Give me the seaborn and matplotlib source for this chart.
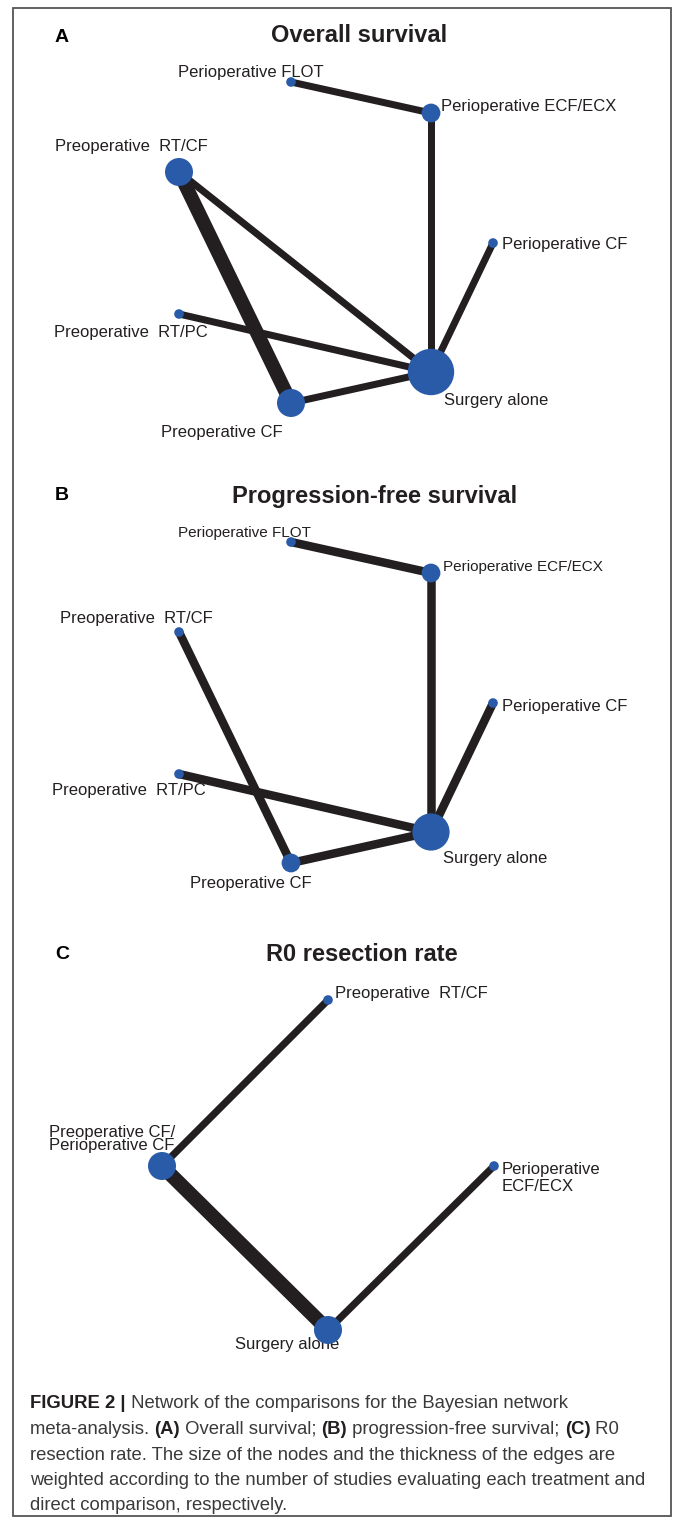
import matplotlib
matplotlib.use("Agg")
import matplotlib.pyplot as plt
import seaborn as sns
import pandas as pd
from matplotlib.patches import Rectangle

# ------------------------------------------------------------------ data
# Panels A and B share the same treatment set / network layout
nodes_ab = ["Perioperative FLOT", "Perioperative ECF/ECX", "Preoperative  RT/CF",
            "Perioperative CF", "Preoperative  RT/PC", "Surgery alone", "Preoperative CF"]
layout_ab_x = [291, 431, 179, 493, 179, 431, 291]
layout_ab_y = [82, 113, 172, 243, 314, 372, 403]

# number of studies per treatment (node weight)
studies_os = [1, 3, 5, 1, 1, 9, 5]
studies_pfs = [1, 3, 1, 1, 1, 7, 3]

# direct comparisons (edge weight = number of studies)
edges_os = [("Perioperative FLOT", "Perioperative ECF/ECX", 1),
            ("Perioperative ECF/ECX", "Surgery alone", 1),
            ("Preoperative  RT/CF", "Surgery alone", 1),
            ("Preoperative  RT/CF", "Preoperative CF", 2),
            ("Preoperative  RT/PC", "Surgery alone", 1),
            ("Preoperative CF", "Surgery alone", 1),
            ("Perioperative CF", "Surgery alone", 1)]
edges_pfs = [("Perioperative FLOT", "Perioperative ECF/ECX", 1),
             ("Perioperative ECF/ECX", "Surgery alone", 1),
             ("Preoperative  RT/CF", "Preoperative CF", 1),
             ("Preoperative  RT/PC", "Surgery alone", 1),
             ("Preoperative CF", "Surgery alone", 1),
             ("Perioperative CF", "Surgery alone", 1)]

nodes_r0 = ["Preoperative  RT/CF", "Preoperative CF/\nPerioperative CF",
            "Perioperative\nECF/ECX", "Surgery alone"]
layout_r0_x = [328, 162, 494, 328]
layout_r0_y = [80, 246, 246, 410]
studies_r0 = [1, 5, 1, 5]
edges_r0 = [("Preoperative  RT/CF", "Preoperative CF/\nPerioperative CF", 1),
            ("Preoperative CF/\nPerioperative CF", "Surgery alone", 2),
            ("Perioperative\nECF/ECX", "Surgery alone", 1)]

panel_letters = ["A", "B", "C"]
panel_titles = ["Overall survival", "Progression-free survival", "R0 resection rate"]

caption_lines = [
    [("FIGURE 2 |", True), (" Network of the comparisons for the Bayesian network", False)],
    [("meta-analysis. ", False), ("(A)", True), (" Overall survival; ", False), ("(B)", True),
     (" progression-free survival; ", False), ("(C)", True), (" R0", False)],
    [("resection rate. The size of the nodes and the thickness of the edges are", False)],
    [("weighted according to the number of studies evaluating each treatment and", False)],
    [("direct comparison, respectively.", False)],
]

# ------------------------------------------------------------------ style
W, H = 673, 1519
PT = 0.72                      # points per pixel at 100 dpi
EDGE_C = "#231f20"
NODE_C = "#2a5ba8"
TEXT_C = "#231f20"
CAP_C = "#3a3a3a"

sns.set_style("white")
plt.rcParams["font.family"] = ["Liberation Sans", "DejaVu Sans"]


def radius_px(n):
    return 2.5 + 2.3 * n


# label placement (left x, centre y, fontsize, linespacing) in panel pixels
labels_a = {"Perioperative FLOT": (178, 73, 12, 1.2),
            "Perioperative ECF/ECX": (441, 106, 12, 1.2),
            "Preoperative  RT/CF": (55, 147, 12, 1.2),
            "Perioperative CF": (502, 245, 12, 1.2),
            "Preoperative  RT/PC": (54, 332, 12, 1.2),
            "Surgery alone": (444, 401, 12, 1.2),
            "Preoperative CF": (161, 432, 12, 1.2)}
labels_b = {"Perioperative FLOT": (178, 73, 11, 1.2),
            "Perioperative ECF/ECX": (443, 107, 11, 1.2),
            "Preoperative  RT/CF": (60, 159, 12, 1.2),
            "Perioperative CF": (502, 247, 12, 1.2),
            "Preoperative  RT/PC": (52, 331, 12, 1.2),
            "Surgery alone": (443, 398, 12, 1.2),
            "Preoperative CF": (190, 423, 12, 1.2)}
labels_c = {"Preoperative  RT/CF": (335, 74, 12, 1.2),
            "Preoperative CF/\nPerioperative CF": (49, 219, 12, 0.8),
            "Perioperative\nECF/ECX": (502, 258, 12, 1.2),
            "Surgery alone": (235, 425, 12, 1.2)}

panels = [
    dict(top=0, names=nodes_ab, xs=layout_ab_x, ys=layout_ab_y, studies=studies_os,
         edges=edges_os, wps=7.0, labels=labels_a, title_x=359, title_y=35, letter_y=38),
    dict(top=460, names=nodes_ab, xs=layout_ab_x, ys=layout_ab_y, studies=studies_pfs,
         edges=edges_pfs, wps=8.5, labels=labels_b, title_x=375, title_y=37, letter_y=35),
    dict(top=920, names=nodes_r0, xs=layout_r0_x, ys=layout_r0_y, studies=studies_r0,
         edges=edges_r0, wps=7.2, labels=labels_c, title_x=362, title_y=35, letter_y=35),
]
PANEL_H = 460

fig = plt.figure(figsize=(W / 100, H / 100), dpi=100)
fig.patch.set_facecolor("white")

# background axes in pixel coordinates (border + caption)
bg = fig.add_axes([0, 0, 1, 1])
bg.set_xlim(0, W)
bg.set_ylim(H, 0)
bg.axis("off")
bg.add_patch(Rectangle((12.5, 8), 658, 1508, fill=False, ec="#555555", lw=1.3,
                       clip_on=False))

for i, p in enumerate(panels):
    ax = fig.add_axes([0, 1 - (p["top"] + PANEL_H) / H, 1, PANEL_H / H])
    pos = dict(zip(p["names"], zip(p["xs"], p["ys"])))
    for a, b, n in p["edges"]:
        (x0, y0), (x1, y1) = pos[a], pos[b]
        ax.plot([x0, x1], [y0, y1], color=EDGE_C, lw=n * p["wps"] * PT,
                solid_capstyle="butt", zorder=1)
    df = pd.DataFrame({"x": p["xs"], "y": p["ys"], "n": p["studies"]})
    sizes = {n: (2 * radius_px(n) * PT) ** 2 for n in set(p["studies"])}
    sns.scatterplot(data=df, x="x", y="y", size="n", sizes=sizes, color=NODE_C,
                    linewidth=0, legend=False, ax=ax, zorder=3)
    for name, (lx, ly, fs, ls) in p["labels"].items():
        ax.text(lx, ly, name, ha="left", va="center", fontsize=fs, color=TEXT_C,
                linespacing=ls, zorder=2)
    ax.text(p["title_x"], p["title_y"], panel_titles[i], ha="center", va="center",
            fontsize=17, fontweight="bold", color=TEXT_C)
    ax.text(62, p["letter_y"], panel_letters[i], ha="center", va="center",
            fontsize=14, fontweight="bold", color="black")
    ax.set_xlim(0, W)
    ax.set_ylim(PANEL_H, 0)
    ax.axis("off")

# caption with mixed bold / regular runs
renderer = fig.canvas.get_renderer()


def seg_width(txt, bold, fs):
    t1 = bg.text(0, 0, "|" + txt + "|", fontsize=fs, fontweight="bold" if bold else "normal")
    t2 = bg.text(0, 0, "||", fontsize=fs, fontweight="bold" if bold else "normal")
    w = t1.get_window_extent(renderer).width - t2.get_window_extent(renderer).width
    t1.remove()
    t2.remove()
    return w


CAP_FS = 13.3
cap_x0, cap_y0, cap_dy = 30, 1404, 25.5
for li, parts in enumerate(caption_lines):
    x = cap_x0
    y = cap_y0 + li * cap_dy
    for txt, bold in parts:
        bg.text(x, y, txt, fontsize=CAP_FS, fontweight="bold" if bold else "normal",
                color="#231f20" if bold else CAP_C, ha="left", va="center")
        x += seg_width(txt, bold, CAP_FS)

fig.savefig("out.png", dpi=100, facecolor="white")
